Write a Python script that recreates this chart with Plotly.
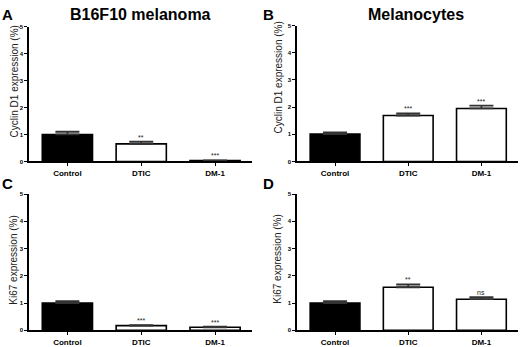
import plotly.graph_objects as go

categories = ["Control", "DTIC", "DM-1"]

a_values = [1.00, 0.65, 0.03]
a_errors = [0.10, 0.08, 0.01]
a_sig = ["", "**", "***"]

b_values = [1.01, 1.69, 1.95]
b_errors = [0.06, 0.08, 0.10]
b_sig = ["", "***", "***"]

c_values = [1.00, 0.17, 0.11]
c_errors = [0.07, 0.02, 0.02]
c_sig = ["", "***", "***"]

d_values = [1.00, 1.58, 1.14]
d_errors = [0.07, 0.10, 0.08]
d_sig = ["", "**", "ns"]

y_ticks = [0, 1, 2, 3, 4, 5]

W, H = 520, 347

def px_x(v):
    return v / W

def px_y(v):
    return 1 - v / H

panels = [
    dict(name="A", vals=a_values, errs=a_errors, sig=a_sig, ytitle="Cyclin D1 expression (%)",
         xd=[29, 252], yd=[161.7, 24], title="B16F10 melanoma", tx=140, letter_x=0, letter_y=1,
         ytx=14, yty=80),
    dict(name="B", vals=b_values, errs=b_errors, sig=b_sig, ytitle="Cyclin D1 expression (%)",
         xd=[297, 518], yd=[161.7, 23], title="Melanocytes", tx=416, letter_x=261, letter_y=1,
         ytx=278, yty=76),
    dict(name="C", vals=c_values, errs=c_errors, sig=c_sig, ytitle="Ki67 expression (%)",
         xd=[29, 252], yd=[334, 195], title=None, tx=0, letter_x=0, letter_y=174,
         ytx=14, yty=263),
    dict(name="D", vals=d_values, errs=d_errors, sig=d_sig, ytitle="Ki67 expression (%)",
         xd=[297, 518], yd=[334, 195], title=None, tx=0, letter_x=261, letter_y=174,
         ytx=278, yty=262),
]

fig = go.Figure()
annotations = []
font_family = "Liberation Sans, Arial, sans-serif"

for i, p in enumerate(panels):
    n = "" if i == 0 else str(i + 1)
    xa = "x" + n
    ya = "y" + n
    fig.add_trace(go.Bar(
        x=categories, y=p["vals"], xaxis=xa, yaxis=ya,
        marker=dict(color=["black", "white", "white"], line=dict(color="black", width=1.6)),
        width=0.68,
        error_y=dict(type="data", array=p["errs"], arrayminus=[0, 0, 0], symmetric=False,
                     color="#333", thickness=1.8, width=12),
        showlegend=False, hoverinfo="skip",
    ))
    fig.layout["xaxis" + n] = dict(
        domain=[px_x(p["xd"][0]), px_x(p["xd"][1])], anchor=ya,
        range=[-0.52, 2.5], showline=True, linecolor="black", linewidth=1.6,
        ticks="outside", ticklen=3, tickwidth=1.2, tickcolor="black",
        tickfont=dict(family=font_family, size=8, color="black", weight="bold"),
        showgrid=False, zeroline=False, fixedrange=True,
    )
    fig.layout["yaxis" + n] = dict(
        domain=[px_y(p["yd"][0]), px_y(p["yd"][1])], anchor=xa,
        range=[0, 5], tickvals=y_ticks, showline=True, linecolor="black", linewidth=1.6,
        ticks="outside", ticklen=3, tickwidth=1.2, tickcolor="black",
        tickfont=dict(family=font_family, size=6, color="black", weight="bold"),
        showgrid=False, zeroline=False, fixedrange=True,
    )
    annotations.append(dict(
        text=p["ytitle"], xref="paper", yref="paper",
        x=px_x(p["ytx"]), y=px_y(p["yty"]),
        textangle=-90, showarrow=False, xanchor="center", yanchor="middle",
        font=dict(family=font_family, size=10, color="#222"),
    ))
    for c, v, e, s in zip(categories, p["vals"], p["errs"], p["sig"]):
        if s:
            annotations.append(dict(
                text=s, x=c, y=v + e, xref=xa, yref=ya, showarrow=False,
                yanchor="bottom", yshift=-1,
                font=dict(family=font_family, size=7, color="#222"),
            ))
    annotations.append(dict(
        text="<b>%s</b>" % p["name"], xref="paper", yref="paper",
        x=px_x(p["letter_x"]), y=px_y(p["letter_y"]), xanchor="left", yanchor="top",
        showarrow=False, font=dict(family=font_family, size=15, color="black"),
    ))
    if p["title"]:
        annotations.append(dict(
            text="<b>%s</b>" % p["title"], xref="paper", yref="paper",
            x=px_x(p["tx"]), y=px_y(12), xanchor="center", yanchor="middle",
            showarrow=False, font=dict(family=font_family, size=16, color="black"),
        ))

fig.update_layout(
    width=W, height=H, margin=dict(l=0, r=0, t=0, b=0),
    paper_bgcolor="white", plot_bgcolor="white",
    annotations=annotations, bargap=0.3, hovermode=False,
)

fig.write_html("out.html", config={"displayModeBar": False},
               post_script="document.body.style.margin='0';")
